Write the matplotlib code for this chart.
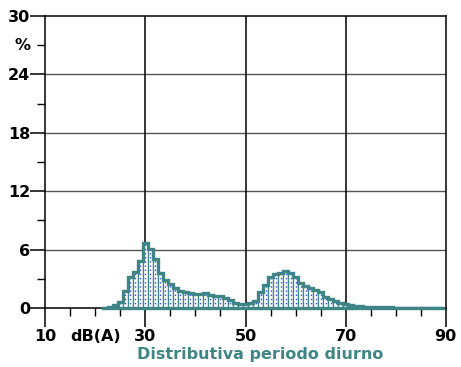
import matplotlib

matplotlib.use("Agg")
import matplotlib.pyplot as plt
import numpy as np

# ----- data (1 dB classes, % of time) -----
levels_db = list(range(22, 90))
percent = [
    0.02, 0.07, 0.28, 0.65, 1.75, 3.2, 3.65, 4.8, 6.7, 6.1,   # 22-31
    5.0, 3.6, 2.9, 2.45, 2.05, 1.75, 1.65, 1.58, 1.44, 1.44,  # 32-41
    1.58, 1.34, 1.23, 1.23, 1.0, 0.82, 0.5, 0.45, 0.45, 0.5,  # 42-51
    0.75, 1.6, 2.37, 3.23, 3.5, 3.63, 3.84, 3.56, 3.15, 2.53,  # 52-61
    2.26, 2.05, 1.8, 1.6, 1.16, 0.93, 0.72, 0.48, 0.38, 0.3,  # 62-71
    0.24, 0.2, 0.13, 0.1, 0.08, 0.07, 0.06, 0.05, 0.04, 0.03,  # 72-81
    0.03, 0.03, 0.03, 0.03, 0.03, 0.03, 0.03, 0.03,            # 82-89
]
x_major = [10, 30, 50, 70, 90]
x_labels = ["10", "dB(A)", "30", "50", "70", "90"]
x_label_pos = [10, 20, 30, 50, 70, 90]
y_major = [0, 6, 12, 18, 24, 30]
y_minor = [3, 9, 15, 21, 27]
title = "Distributiva periodo diurno"

TEAL = "#3f8585"
BLUE = "#2f4cff"
FS = 11.5

fig = plt.figure(figsize=(4.61, 3.67), dpi=100)
ax = fig.add_axes([0.0983, 0.1608, 0.8685, 0.7956])
ax.set_xlim(10, 90)
ax.set_ylim(0, 30)

# grid
for y in y_major[1:-1]:
    ax.axhline(y, color="#555555", lw=1.0, zorder=1)
for x in x_major[1:-1]:
    ax.axvline(x, color="black", lw=1.1, zorder=1)

centers = np.array(levels_db, dtype=float)
vals = np.array(percent)
edges = np.append(centers - 0.5, centers[-1] + 0.5)

ax.bar(centers, vals, width=1.0, color="white", edgecolor=TEAL, linewidth=0.9, zorder=2)
ax.vlines(centers, 0, vals, colors=BLUE, linestyles=(0, (1, 2)), lw=1.0, zorder=2.2)
ax.stairs(vals, edges, color=TEAL, lw=2.4, zorder=3, baseline=None)
ax.plot([edges[0], edges[-1]], [0, 0], color=TEAL, lw=2.4, zorder=3, clip_on=False)

for s in ax.spines.values():
    s.set_color("black")
    s.set_linewidth(1.1)

# ticks
ax.set_xticks(x_major)
ax.set_xticklabels([])
ax.set_xticks(np.arange(10, 91, 5), minor=True)
ax.tick_params(axis="x", which="major", length=14, width=1.1, direction="out")
ax.tick_params(axis="x", which="minor", length=6, width=1.0, direction="out")
for x, lab in zip(x_label_pos, x_labels):
    ax.text(x, -2.95, lab, ha="center", va="center", fontsize=FS,
            fontweight="bold", color="black")

ax.set_yticks(y_major)
ax.set_yticklabels([str(v) for v in y_major], fontsize=FS, fontweight="bold")
ax.set_yticks(y_minor, minor=True)
ax.tick_params(axis="y", which="major", length=11, width=1.1, pad=0)
ax.tick_params(axis="y", which="minor", length=6, width=1.0)
ax.text(-0.058, 27, "%", transform=ax.get_yaxis_transform(), ha="center",
        va="center", fontsize=FS, fontweight="bold")

fig.text(0.564, 0.033, title, ha="center", va="center", fontsize=FS,
         fontweight="bold", color=TEAL)

fig.savefig("out.png", dpi=100)
